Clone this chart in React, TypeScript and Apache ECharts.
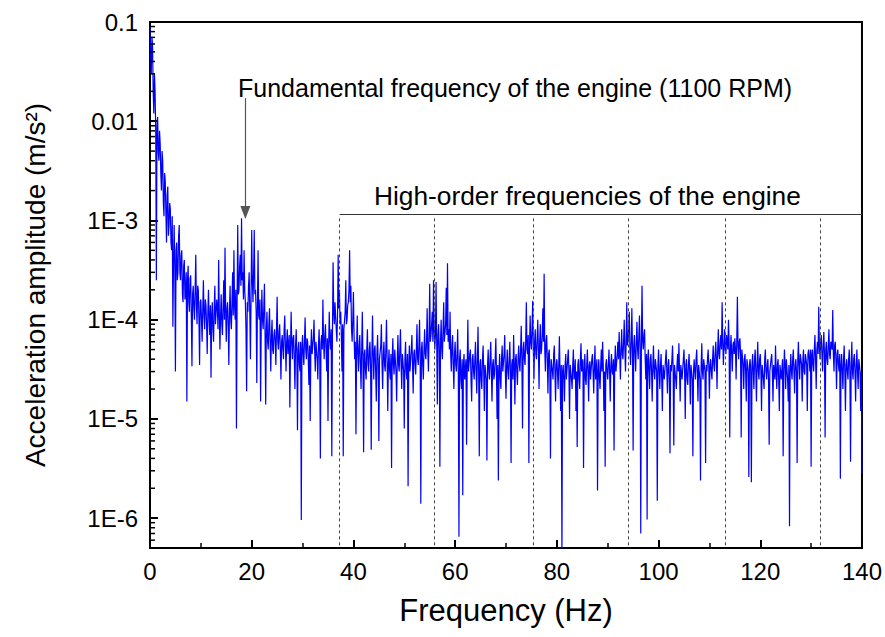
import { useEffect, useRef } from 'react';
import * as echarts from 'echarts';

const FREQ_STEP = 0.125;
const amp0to10 = [
  0.09,0.05, 0.03,0.07, 0.06,0.02, 0.012,0.03,
  0.02,0.008, 2.5e-4,0.009, 0.011,0.005, 4e-3,0.008,
  6e-3,3e-3, 2e-3,5e-3, 4e-3,1.5e-3, 1.1e-3,3e-3,
  2.5e-3,1.2e-3, 6e-4,1.8e-3, 2.2e-3,7e-4, 9e-4,1.5e-3,
  1.3e-3,6e-4, 5e-4,1.1e-3, 8.5e-5,4e-4, 9e-4,3.5e-4,
  3e-5,5e-4, 6e-4,2.5e-4, 3e-4,7e-4, 9e-4,3e-4,
  2.5e-4,4.5e-4, 5e-4,1.8e-4, 1.5e-4,3.5e-4, 4e-4,1.6e-4,
  2e-4,3e-4, 1.5e-5,2.5e-4, 3.5e-4,1.5e-4, 1.2e-4,2.6e-4,
  2.8e-4,1.1e-4, 3.4e-5,1.8e-4, 2.2e-4,1.3e-4, 1e-4,2e-4,
  4.5e-4,1.4e-4, 9e-5,2.2e-4, 2e-4,1e-4, 3.5e-5,1.5e-4,
];
const amp10to20 = [
  1.6e-4,1e-4, 6e-5,1.3e-4, 2.5e-4,1.1e-4, 8e-5,1.6e-4,
  1.4e-4,9e-5, 4.5e-5,1.2e-4, 2e-4,1e-4, 7e-5,1.4e-4,
  2.6e-5,1.1e-4, 1.5e-4,8e-5, 6e-5,1.3e-4, 2.2e-4,9e-5,
  9e-5,1.6e-4, 1.3e-4,8e-5, 4e-4,1.2e-4, 5e-5,1.1e-4,
  1.8e-4,9e-5, 7e-5,1.4e-4, 2.5e-4,1e-4, 5.3e-4,1.2e-4,
  6e-5,1.3e-4, 1.5e-4,9e-5, 3.5e-5,1.2e-4, 2.2e-4,1e-4,
  8e-5,1.5e-4, 3e-4,1.1e-4, 5e-4,1.4e-4, 1e-4,2e-4,
  8e-6,1.5e-4, 9e-4,1.8e-4, 2e-4,3.5e-4, 4.5e-4,2.2e-4,
  1.05e-3,2.5e-4, 3e-4,1.6e-4, 5e-4,2e-4, 1.5e-4,8e-5,
  1.9e-5,1.5e-4, 1.2e-4,2.2e-4, 3e-4,1.2e-4, 4e-5,1.8e-4,
];
const amp20to30 = [
  8e-4,2.5e-4, 1.5e-4,3e-4, 8e-4,1.8e-4, 2e-4,1.2e-4,
  2.3e-5,1.5e-4, 5e-4,1.1e-4, 1e-4,1.6e-4, 1.5e-5,9e-5,
  2e-4,1e-4, 8e-5,1.3e-4, 2.3e-4,7e-5, 1.4e-5,8e-5,
  1.2e-4,6e-5, 5e-5,9e-5, 1.3e-4,6e-5, 3e-5,7e-5,
  1e-4,5e-5, 4.5e-5,7e-5, 8e-5,6e-5, 3.5e-5,8e-5,
  1.7e-4,6e-5, 5e-5,7.5e-5, 9e-5,5e-5, 2.5e-5,6e-5,
  7e-5,5e-5, 4e-5,8e-5, 1.1e-4,5.5e-5, 3e-5,6e-5,
  8e-5,4.5e-5, 4.5e-5,7e-5, 1.3e-5,5e-5, 1.2e-4,6e-5,
  4e-5,6.5e-5, 7e-5,4e-5, 2e-5,5.5e-5, 8e-5,4.5e-5,
  7.7e-6,5e-5, 6e-5,3.5e-5, 3e-5,6e-5, 9.6e-7,5e-5,
];
const amp30to40 = [
  7e-5,4.5e-5, 3.5e-5,6e-5, 1.05e-4,5e-5, 4e-5,6.5e-5,
  6e-5,4e-5, 2.2e-5,5.5e-5, 9.5e-6,5e-5, 8e-5,4.5e-5,
  4.5e-5,6.5e-5, 1e-4,5e-5, 3e-5,6e-5, 6e-5,4e-5,
  2.5e-5,5.5e-5, 8e-5,4.5e-5, 4e-6,6e-5, 7e-5,5e-5,
  1.6e-4,6e-5, 4e-5,7e-5, 9e-5,5e-5, 3e-5,6.5e-5,
  9.5e-6,5.5e-5, 1.2e-4,6e-5, 5e-5,8e-5, 4.2e-6,7e-5,
  3.8e-4,1.2e-4, 9e-5,1.5e-4, 1.5e-4,8e-5, 6e-5,1.1e-4,
  4.5e-4,1.3e-4, 2e-4,9e-5, 1.2e-4,7e-5, 3e-5,9e-5,
  4.2e-6,8e-5, 8e-5,1.2e-4, 2.5e-4,9e-5, 1e-4,1.4e-4,
  1.5e-4,2e-4, 5e-4,1.5e-4, 2.2e-4,8e-5, 6e-5,1e-4,
];
const amp40to50 = [
  1.9e-4,7e-5, 4e-5,6e-5, 7e-6,5e-5, 1.1e-4,4.5e-5,
  3e-5,5.5e-5, 7e-5,3.5e-5, 2e-5,5e-5, 1.2e-4,4e-5,
  4.6e-6,4.5e-5, 5e-5,3e-5, 2.5e-5,5e-5, 8e-5,3.5e-5,
  3e-5,5e-5, 6e-5,3.5e-5, 4.9e-6,4e-5, 1.1e-4,4.5e-5,
  2.5e-5,5e-5, 5.5e-5,3e-5, 1.5e-5,4.5e-5, 7e-5,3.5e-5,
  6e-6,4e-5, 4e-5,5.5e-5, 9e-5,3.5e-5, 2e-5,4.5e-5,
  6e-5,3.5e-5, 3e-5,5e-5, 1e-4,4e-5, 1.2e-5,3.5e-5,
  5e-5,3e-5, 2.5e-5,4.5e-5, 3.2e-6,4e-5, 6.5e-5,3.5e-5,
  2.8e-5,5e-5, 5e-5,3e-5, 1.5e-5,4e-5, 7e-5,3.5e-5,
  3e-5,5e-5, 8e-5,3.5e-5, 2e-5,4.5e-5, 4.5e-5,3e-5,
];
const amp50to60 = [
  8e-6,4e-5, 6e-5,3e-5, 2.5e-5,4.5e-5, 2.1e-6,3.5e-5,
  5.5e-5,3e-5, 3e-5,5e-5, 7e-5,3.5e-5, 1.8e-5,4.5e-5,
  5e-5,3.5e-5, 2.8e-5,5e-5, 9e-5,4e-5, 3.5e-5,5.5e-5,
  1e-4,4e-5, 1.4e-6,5e-5, 6e-5,3.5e-5, 2.5e-5,5e-5,
  8e-5,4.5e-5, 4e-5,6e-5, 1.3e-4,5e-5, 3e-5,7e-5,
  2.3e-4,6e-5, 7e-5,9e-5, 1.2e-4,6e-5, 2.5e-4,8e-5,
  5e-5,7e-5, 2.4e-4,6e-5, 1.4e-5,7e-5, 9e-5,5e-5,
  3.3e-6,6e-5, 1e-4,5e-5, 4e-5,8e-5, 1.5e-4,6e-5,
  6e-5,9e-5, 2.1e-4,7e-5, 3.7e-4,6e-5, 8e-5,5e-5,
  1.2e-4,4.5e-5, 3e-5,5.5e-5, 7e-5,3.5e-5, 2e-5,4.5e-5,
];
const amp60to70 = [
  6e-5,3.5e-5, 3e-5,4.5e-5, 8e-5,3e-5, 6.5e-7,4e-5,
  5e-5,2.5e-5, 2e-5,4e-5, 1.7e-6,3.5e-5, 4.5e-5,2.5e-5,
  2.5e-5,4e-5, 5.5e-6,3.5e-5, 1e-4,3e-5, 3e-5,4.5e-5,
  5e-5,2.5e-5, 1.5e-5,4e-5, 4.5e-5,3e-5, 2.5e-5,4e-5,
  6e-5,3e-5, 1.8e-5,4e-5, 8.5e-5,3e-5, 4.2e-6,3.5e-5,
  4e-5,2.5e-5, 2e-5,4e-5, 5.5e-5,3e-5, 1.2e-5,3.5e-5,
  3.5e-5,2.5e-5, 3.8e-6,3.5e-5, 5e-5,3e-5, 2.5e-5,4e-5,
  6e-5,3e-5, 1.5e-5,3.5e-5, 4e-5,2.5e-5, 2.8e-5,4e-5,
  6.5e-5,3e-5, 1e-5,3.5e-5, 2.4e-6,3e-5, 4.5e-5,2.5e-5,
  2e-5,4e-5, 5.5e-5,3e-5, 3e-5,4.5e-5, 7e-5,3e-5,
];
const amp70to80 = [
  1.6e-5,3.5e-5, 5e-5,3e-5, 2.5e-5,4e-5, 6e-5,3e-5,
  3.6e-6,3.5e-5, 4e-5,2.5e-5, 7e-5,3.5e-5, 1.4e-5,4e-5,
  4.5e-5,3e-5, 2.2e-5,4e-5, 5.5e-5,3.5e-5, 3e-5,5e-5,
  8.7e-5,4e-5, 8e-6,5e-5, 6e-5,4e-5, 3.5e-5,6e-5,
  1.5e-4,5e-5, 4.5e-5,7e-5, 3.6e-6,5e-5, 1.1e-4,6e-5,
  5e-5,8e-5, 1.55e-4,5e-5, 2.5e-5,6e-5, 8e-5,4.5e-5,
  4e-5,6.5e-5, 1e-4,5e-5, 2e-5,6e-5, 9e-5,4.5e-5,
  5e-5,7e-5, 1.3e-4,6e-5, 2.9e-4,5e-5, 3e-5,6e-5,
  7e-5,4e-5, 1.8e-5,4.5e-5, 5e-5,3e-5, 4e-6,4e-5,
  4e-5,3e-5, 2.5e-5,4.5e-5, 5.5e-5,3e-5, 1.5e-5,3.5e-5,
];
const amp80to90 = [
  4e-5,3e-5, 2e-5,3.5e-5, 6.8e-5,3e-5, 1.2e-5,3.5e-5,
  4e-7,3e-5, 3.5e-5,2.5e-5, 1.5e-5,3.5e-5, 4.5e-5,2.5e-5,
  2.5e-5,4e-5, 5e-5,3e-5, 1e-5,3.5e-5, 3.5e-5,2.5e-5,
  2e-5,3.5e-5, 5e-5,2.5e-5, 2.8e-5,4e-5, 1.2e-5,3e-5,
  5.2e-6,3.5e-5, 4e-5,2.5e-5, 2e-5,4e-5, 5.8e-5,3e-5,
  3e-5,4e-5, 3.2e-6,3e-5, 4.5e-5,2.5e-5, 2.2e-5,3.5e-5,
  5e-5,3e-5, 1.5e-5,3.5e-5, 3.8e-5,2.5e-5, 2.5e-5,4e-5,
  4.5e-5,3e-5, 1.8e-5,3.5e-5, 5.5e-5,2.5e-5, 3e-5,4e-5,
  1.9e-6,3e-5, 4e-5,2.5e-5, 2e-5,3.5e-5, 5e-5,3e-5,
  6e-5,3.5e-5, 1.2e-5,3e-5, 3.3e-6,3.5e-5, 4e-5,3e-5,
];
const amp90to100 = [
  2.5e-5,3.5e-5, 5e-5,3e-5, 1.5e-5,3.5e-5, 4.5e-5,3e-5,
  2.8e-5,4e-5, 4.8e-6,3.5e-5, 5.5e-5,3e-5, 3e-5,4.5e-5,
  6e-5,4e-5, 7.5e-5,4.5e-5, 2.5e-5,5e-5, 8e-5,4.5e-5,
  4e-5,6e-5, 1e-4,5e-5, 3e-5,6e-5, 1.5e-4,5.5e-5,
  6e-5,8e-5, 1.2e-4,5e-5, 3.5e-5,6e-5, 1.3e-4,5e-5,
  4.8e-6,5.5e-5, 7e-5,4.5e-5, 3e-5,6e-5, 9.5e-5,5e-5,
  4e-5,7e-5, 1.1e-4,5e-5, 7e-7,6e-5, 2.2e-4,6e-5,
  5e-5,7e-5, 8e-5,4e-5, 2.5e-5,4.5e-5, 9.7e-7,4e-5,
  5e-5,3e-5, 2e-5,4e-5, 4.5e-5,3e-5, 1.5e-5,3.5e-5,
  5.5e-5,3e-5, 2.5e-5,4e-5, 4e-5,3e-5, 1.5e-6,3.5e-5,
];
const amp100to110 = [
  5e-5,3e-5, 2e-5,3.5e-5, 4.5e-5,2.5e-5, 1.2e-5,3.5e-5,
  3.5e-5,2.5e-5, 2.5e-5,4e-5, 5e-5,3e-5, 1.8e-5,3.5e-5,
  4e-5,2.5e-5, 4.5e-6,3.5e-5, 3e-5,4e-5, 5.5e-5,3e-5,
  5.4e-6,3.5e-5, 3.5e-5,2.5e-5, 2e-5,3.5e-5, 4.5e-5,3e-5,
  5.8e-5,3e-5, 1.5e-5,3.5e-5, 3.5e-5,2.5e-5, 2.5e-5,4e-5,
  5e-5,3e-5, 1e-5,3.5e-5, 4e-5,2.5e-5, 2.2e-5,3.5e-5,
  4.5e-5,3e-5, 1.4e-5,3.5e-5, 3.5e-5,2.5e-5, 4.2e-6,3e-5,
  4e-5,3e-5, 2.5e-5,4e-5, 5e-5,3e-5, 1.5e-5,3.5e-5,
  3.5e-5,2.5e-5, 2.4e-6,3.5e-5, 5.8e-5,3e-5, 2.5e-5,4e-5,
  4e-5,3e-5, 3.6e-6,3.5e-5, 3e-5,4e-5, 5e-5,3.5e-5,
];
const amp110to120 = [
  1.6e-5,3.5e-5, 4e-5,3e-5, 2.5e-5,4e-5, 5.5e-5,3.5e-5,
  3e-5,4.5e-5, 6e-5,4e-5, 2e-5,5e-5, 8e-5,4.5e-5,
  4e-5,6e-5, 7e-5,5e-5, 1.5e-4,6e-5, 3.5e-5,5.5e-5,
  8e-5,5e-5, 4.5e-5,7e-5, 6e-5,5e-5, 1e-4,6e-5,
  6.5e-6,5e-5, 7e-5,4.5e-5, 3e-5,5.5e-5, 6e-5,4.5e-5,
  6.5e-5,5e-5, 2.5e-5,6e-5, 1.7e-4,5.5e-5, 4e-5,6e-5,
  6.5e-5,4.5e-5, 6.5e-6,5e-5, 5e-5,3.5e-5, 2e-5,4e-5,
  4.5e-5,3e-5, 1.5e-5,4e-5, 3.5e-5,3e-5, 2.6e-6,3.5e-5,
  4e-5,3e-5, 2.3e-6,3.5e-5, 4.5e-5,3e-5, 2e-5,4e-5,
  5e-5,3e-5, 1.5e-5,3.5e-5, 6e-5,3e-5, 2.5e-5,4e-5,
];
const amp120to130 = [
  4.5e-5,3e-5, 1.2e-5,3.5e-5, 3.5e-5,2.5e-5, 2e-5,4e-5,
  5e-5,3e-5, 2.5e-5,3.5e-5, 4e-5,2.5e-5, 5.5e-6,3e-5,
  3e-5,4e-5, 4.5e-5,3e-5, 1.5e-5,3.5e-5, 3.5e-5,2.5e-5,
  5.5e-5,3e-5, 2e-5,3.5e-5, 4e-5,2.5e-5, 1.2e-5,3.5e-5,
  3.5e-5,2.5e-5, 2.5e-5,4e-5, 4.2e-6,3e-5, 5e-5,3.5e-5,
  2e-5,4e-5, 4e-5,2.5e-5, 1.5e-5,3.5e-5, 8.3e-7,3e-5,
  4.5e-5,3e-5, 2.5e-5,4e-5, 5e-5,3e-5, 1.8e-5,3.5e-5,
  4e-5,3e-5, 3.6e-6,4e-5, 6e-5,3.5e-5, 2.5e-5,4.5e-5,
  4.5e-5,3.5e-5, 1.5e-5,4e-5, 5e-5,3e-5, 2.8e-5,4.5e-5,
  4e-5,3.5e-5, 1.2e-5,4.5e-5, 5e-5,4e-5, 3e-5,5e-5,
];
const amp130to140 = [
  3.3e-6,4.5e-5, 5e-5,3.5e-5, 3e-5,5e-5, 7e-5,4e-5,
  2e-5,5e-5, 6e-5,4.5e-5, 1.35e-4,5.5e-5, 4e-5,6e-5,
  7e-5,4.5e-5, 3e-5,5.5e-5, 7.5e-5,4.5e-5, 6.5e-6,5e-5,
  6e-5,4e-5, 3.5e-5,5.5e-5, 8e-5,4.5e-5, 4e-5,6e-5,
  6e-5,5e-5, 1.25e-4,4.5e-5, 3e-5,5.5e-5, 6e-5,4e-5,
  2e-5,4.5e-5, 5e-5,3.5e-5, 3e-5,4.5e-5, 2.5e-6,3.5e-5,
  4.5e-5,3e-5, 2e-5,4e-5, 5.5e-5,3e-5, 1.2e-5,3.5e-5,
  4e-5,3e-5, 2.5e-5,4e-5, 5e-5,3e-5, 3.7e-6,3.5e-5,
  6e-5,3e-5, 2.5e-5,4e-5, 4.5e-5,3e-5, 1.5e-5,3.5e-5,
  5e-5,3e-5, 2e-5,4e-5, 4e-5,3e-5, 1.2e-5,3e-5,
  2.8e-6,
];

// Axes
const X_MIN = 0;
const X_MAX = 140;
const X_INTERVAL = 20;
const Y_MIN = 5e-7;
const Y_MAX = 0.1;
const yTickValues = [1e-6, 1e-5, 1e-4, 1e-3, 0.01, 0.1];
const yTickLabels = ['1E-6', '1E-5', '1E-4', '1E-3', '0.01', '0.1'];
const yMinorMultipliers = [2, 3, 4, 5, 6, 7, 8, 9];

// Annotations
const fundamentalFreq = 18.75;
const harmonicFreqs = [37.3, 55.8, 75.3, 94.0, 113.2, 131.8];
const HARMONIC_TOP = 1.05e-3;
const BRACKET_LEVEL = 1.16e-3;
const ARROW_TOP = 0.0171;
const ARROW_TIP = 1.2e-3;
const fundamentalText = 'Fundamental frequency of the engine (1100 RPM)';
const harmonicText = 'High-order frequencies of the engine';
const xAxisName = 'Frequency (Hz)';
const yAxisName = 'Acceleration amplitude (m/s²)';

const FONT = '"Liberation Sans", Arial, Helvetica, sans-serif';

export default function App() {
  const ref = useRef<HTMLDivElement>(null);

  useEffect(() => {
    document.body.style.margin = '0';
    const chart = echarts.init(ref.current!, null, { renderer: 'svg' });

    const amps = [
      ...amp0to10, ...amp10to20, ...amp20to30, ...amp30to40, ...amp40to50,
      ...amp50to60, ...amp60to70, ...amp70to80, ...amp80to90, ...amp90to100,
      ...amp100to110, ...amp110to120, ...amp120to130, ...amp130to140,
    ];
    const spectrum = amps.map((v, i) => [i * FREQ_STEP, v]);

    const minorTicks: number[][] = [];
    for (let e = -7; e <= -2; e++) {
      for (const m of yMinorMultipliers) {
        const v = m * Math.pow(10, e);
        if (v > Y_MIN * 1.001 && v < Y_MAX) minorTicks.push([X_MIN, v]);
      }
    }

    const yLabel = (v: number) => {
      const idx = yTickValues.findIndex((t) => Math.abs(Math.log10(v) - Math.log10(t)) < 1e-6);
      return idx >= 0 ? yTickLabels[idx] : '';
    };

    const option: any = {
      animation: false,
      backgroundColor: '#fff',
      textStyle: { fontFamily: FONT },
      grid: {
        left: 150, right: 23, top: 22, bottom: 89,
        show: true, borderColor: '#000', borderWidth: 2, containLabel: false,
      },
      xAxis: {
        type: 'value',
        min: X_MIN, max: X_MAX, interval: X_INTERVAL,
        name: xAxisName, nameLocation: 'middle', nameGap: 47,
        nameTextStyle: { fontSize: 31, color: '#000', fontFamily: FONT },
        axisLine: { show: true, lineStyle: { color: '#000', width: 2 } },
        axisTick: { show: true, inside: true, length: 8, lineStyle: { color: '#000', width: 2 } },
        minorTick: { show: true, splitNumber: 2, length: 5, lineStyle: { color: '#000', width: 1.5 } },
        axisLabel: { fontSize: 24, color: '#000', margin: 11, fontFamily: FONT },
        splitLine: { show: false },
      },
      yAxis: {
        type: 'log', logBase: 10,
        min: Y_MIN, max: Y_MAX,
        name: yAxisName, nameLocation: 'middle', nameGap: 101,
        nameTextStyle: { fontSize: 28, color: '#000', fontFamily: FONT },
        axisLine: { show: true, lineStyle: { color: '#000', width: 2 } },
        axisTick: { show: true, inside: true, length: 8, lineStyle: { color: '#000', width: 2 } },
        minorTick: { show: false },
        axisLabel: { fontSize: 24, color: '#000', margin: 12, formatter: yLabel, fontFamily: FONT },
        splitLine: { show: false },
      },
      graphic: [
        {
          type: 'text', x: 238, y: 88, silent: true,
          style: { text: fundamentalText, fontSize: 25, fontFamily: FONT, fill: '#000', verticalAlign: 'middle' },
        },
        {
          type: 'text', x: 374, y: 196, silent: true,
          style: { text: harmonicText, fontSize: 26.3, fontFamily: FONT, fill: '#000', verticalAlign: 'middle' },
        },
      ],
      series: [
        {
          type: 'line',
          data: spectrum,
          showSymbol: false,
          symbol: 'none',
          lineStyle: { color: '#0000ff', width: 1.2 },
          itemStyle: { color: '#0000ff' },
          z: 2,
          markLine: {
            silent: true,
            symbol: 'none',
            label: { show: false },
            animation: false,
            data: [
              ...harmonicFreqs.map((f) => [
                { coord: [f, HARMONIC_TOP], lineStyle: { color: '#444', width: 1, type: [3, 3] } },
                { coord: [f, Y_MIN] },
              ]),
              [
                { coord: [harmonicFreqs[0], BRACKET_LEVEL], lineStyle: { color: '#333', width: 1, type: 'solid' } },
                { coord: [X_MAX, BRACKET_LEVEL] },
              ],
              [
                { coord: [fundamentalFreq, ARROW_TOP], symbol: 'none', lineStyle: { color: '#555', width: 1.2, type: 'solid' } },
                { coord: [fundamentalFreq, ARROW_TIP], symbol: 'triangle', symbolSize: [10, 13], symbolRotate: 180, itemStyle: { color: '#000' } },
              ],
            ],
          },
        },
        {
          type: 'custom',
          data: minorTicks,
          silent: true,
          clip: false,
          z: 5,
          encode: { x: 0, y: 1 },
          renderItem: (_params: any, api: any) => {
            const p = api.coord([api.value(0), api.value(1)]);
            return {
              type: 'line',
              shape: { x1: p[0], y1: p[1], x2: p[0] + 5, y2: p[1] },
              style: { stroke: '#000', lineWidth: 1.5 },
            };
          },
        },
      ],
    };

    chart.setOption(option);
    return () => chart.dispose();
  }, []);

  return <div ref={ref} style={{ width: 885, height: 637 }} />;
}
